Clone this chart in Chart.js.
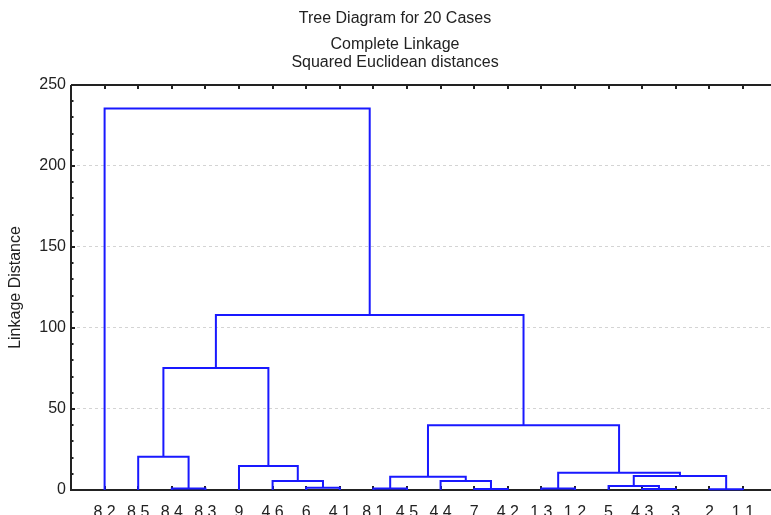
<!DOCTYPE html>
<html><head><meta charset="utf-8">
<script src="https://cdn.jsdelivr.net/npm/chart.js@4.4.0/dist/chart.umd.min.js"></script>
<style>html,body{margin:0;padding:0;background:#fff;overflow:hidden;width:771px;height:515px}canvas{display:block}</style>
</head><body>
<canvas id="c" width="790" height="515"></canvas>
<script>
// Leaves in display order (index 0..19)
const leafLabels = ['8.2','8.5','8.4','8.3','9','4.6','6','4.1','8.1','4.5','4.4','7','4.2','1.3','1.2','5','4.3','3','2','1.1'];
// Linkage steps: node 20+k joins mergeLeft[k] and mergeRight[k] at mergeHeight[k]
const mergeLeft   = [11, 16, 18, 2, 8, 13, 6, 15, 5, 10, 24, 27, 25, 4, 1, 30, 34, 36, 0];
const mergeRight  = [12, 17, 19, 3, 9, 14, 7, 21, 26, 20, 29, 22, 31, 28, 23, 32, 33, 35, 37];
const mergeHeight = [0.6, 0.6, 0.5, 1.0, 1.0, 1.0, 1.4, 2.5, 5.5, 5.5, 8.2, 8.6, 10.7, 14.8, 20.6, 40, 75.3, 108, 235.5];
const yTickValues = [0, 50, 100, 150, 200, 250];

const FONT = "'Liberation Sans', Arial, Helvetica, sans-serif";
const TXT = '#222';

const pos = leafLabels.map((_, i) => i);
const hgt = leafLabels.map(() => 0);
const datasets = [];
mergeLeft.forEach((l, k) => {
  const r = mergeRight[k], H = mergeHeight[k];
  pos.push((pos[l] + pos[r]) / 2);
  hgt.push(H);
  datasets.push({
    data: [{x: pos[l], y: hgt[l]}, {x: pos[l], y: H}, {x: pos[r], y: H}, {x: pos[r], y: hgt[r]}],
    showLine: true, borderColor: 'rgb(25,25,255)', borderWidth: 2, pointRadius: 0,
    tension: 0, fill: false, clip: false
  });
});

const framePlugin = {
  id: 'frame',
  beforeDatasetsDraw(chart) {
    const {ctx, chartArea: a, scales: {x, y}} = chart;
    ctx.save();
    ctx.strokeStyle = '#222';
    ctx.lineWidth = 2;
    ctx.beginPath();
    ctx.moveTo(a.left, a.top); ctx.lineTo(a.left, a.bottom); ctx.lineTo(a.right, a.bottom);
    ctx.moveTo(a.left, a.top); ctx.lineTo(a.right, a.top);
    ctx.stroke();
    ctx.beginPath();
    leafLabels.forEach((_, i) => {
      const px = Math.round(x.getPixelForValue(i));
      ctx.moveTo(px, a.bottom); ctx.lineTo(px, a.bottom - 4);
      ctx.moveTo(px, a.top); ctx.lineTo(px, a.top + 4);
    });
    for (let v = 0; v <= 250; v += 10) {
      const py = Math.round(y.getPixelForValue(v));
      const len = (v % 50 === 0) ? 4 : 2.5;
      ctx.moveTo(a.left, py); ctx.lineTo(a.left + len, py);
    }
    ctx.stroke();
    ctx.restore();
  }
};

new Chart(document.getElementById('c'), {
  type: 'scatter',
  data: {datasets},
  options: {
    responsive: false, animation: false,
    layout: {padding: 0},
    plugins: {
      legend: {display: false}, tooltip: {enabled: false},
      title: {display: true, text: 'Tree Diagram for 20 Cases', color: TXT,
        font: {family: FONT, size: 16, weight: 'normal', lineHeight: 1.2}, padding: {top: 9.4, bottom: 3}},
      subtitle: {display: true, text: ['Complete Linkage', 'Squared Euclidean distances'], color: TXT,
        font: {family: FONT, size: 16, weight: 'normal', lineHeight: 1.156}, padding: {top: 3.65, bottom: 12.75}}
    },
    scales: {
      x: {
        type: 'linear', min: -1, max: 20.4,
        afterBuildTicks: s => { s.ticks = leafLabels.map((_, i) => ({value: i})); },
        afterFit: s => { s.height = 25; },
        ticks: {autoSkip: false, maxRotation: 0, minRotation: 0, padding: 13, color: TXT,
          font: {family: FONT, size: 16}, callback: v => leafLabels[v]},
        grid: {display: false, drawTicks: false}, border: {display: false}
      },
      y: {
        min: 0, max: 250,
        afterBuildTicks: s => { s.ticks = yTickValues.map(v => ({value: v})); },
        afterFit: s => { s.width = 71; },
        ticks: {padding: 5, color: TXT, font: {family: FONT, size: 16}},
        title: {display: true, text: 'Linkage Distance', color: TXT,
          font: {family: FONT, size: 16}, padding: {top: 6, bottom: 0}},
        grid: {drawTicks: false, lineWidth: 1,
          color: c => (c.tick && (c.tick.value === 0 || c.tick.value === 250)) ? 'rgba(0,0,0,0)' : '#d4d4d4'},
        border: {display: false, dash: [3, 3]}
      }
    }
  },
  plugins: [framePlugin]
});
</script>
</body></html>
